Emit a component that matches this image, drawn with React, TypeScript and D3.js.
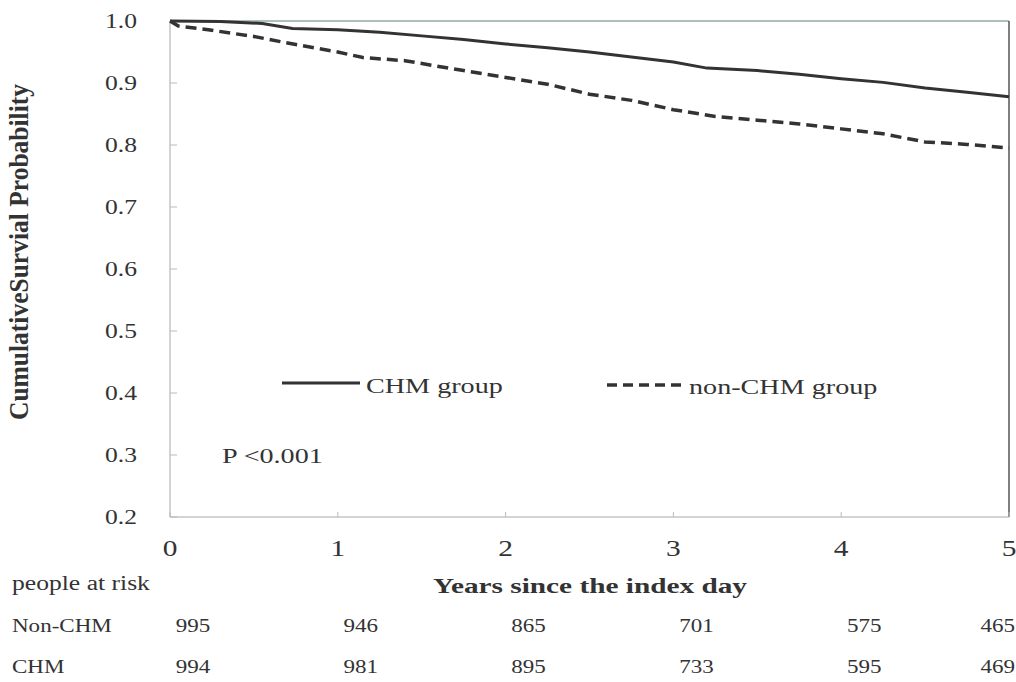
import React from 'react';
import * as d3 from 'd3';

// survival curves
const chmYears = [0, 0.3, 0.55, 0.73, 1.0, 1.25, 1.5, 1.75, 2.0, 2.25, 2.5, 2.75, 3.0, 3.2, 3.5, 3.75, 4.0, 4.25, 4.5, 4.75, 5.0];
const chmSurv = [1.0, 0.999, 0.996, 0.988, 0.986, 0.982, 0.976, 0.97, 0.963, 0.957, 0.95, 0.942, 0.934, 0.924, 0.92, 0.914, 0.907, 0.901, 0.892, 0.885, 0.878];

const nonYears = [0, 0.05, 0.25, 0.5, 0.75, 1.0, 1.15, 1.4, 1.75, 2.0, 2.25, 2.5, 2.75, 3.0, 3.25, 3.5, 3.75, 4.0, 4.25, 4.5, 4.75, 5.0];
const nonSurv = [1.0, 0.992, 0.985, 0.975, 0.962, 0.95, 0.941, 0.936, 0.92, 0.909, 0.898, 0.882, 0.872, 0.857, 0.846, 0.84, 0.834, 0.826, 0.818, 0.805, 0.801, 0.795];

const xTicks = [0, 1, 2, 3, 4, 5];
const yTicks = [0.2, 0.3, 0.4, 0.5, 0.6, 0.7, 0.8, 0.9, 1.0];

const riskGroups = ['Non-CHM', 'CHM'];
const riskNon = [995, 946, 865, 701, 575, 465];
const riskChm = [994, 981, 895, 733, 595, 469];

const W = 1016;
const H = 682;
const SX = 1.28; // the scan is stretched sideways
const FONT = '"Liberation Serif", "Times New Roman", serif';
const INK = '#333';

const T = ({ x, y, size, anchor = 'start', weight = 'normal', children }: any) => (
  <text
    transform={`translate(${x},${y}) scale(${SX},1)`}
    fontFamily={FONT}
    fontSize={size}
    fontWeight={weight}
    textAnchor={anchor}
    fill={INK}
  >
    {children}
  </text>
);

export default function App() {
  const x = d3.scaleLinear().domain([0, 5]).range([170, 1009]);
  const y = d3.scaleLinear().domain([0.2, 1.0]).range([517, 21]);

  const line = d3
    .line<[number, number]>()
    .x(d => x(d[0]))
    .y(d => y(d[1]));

  const chm = chmYears.map((t, i) => [t, chmSurv[i]] as [number, number]);
  const non = nonYears.map((t, i) => [t, nonSurv[i]] as [number, number]);

  const [x0, x1] = x.range();
  const [yb, yt] = y.range();

  return (
    <svg width={W} height={H} style={{ position: 'absolute', left: 0, top: 0, background: '#fff' }}>
      {/* frame */}
      <line x1={x0} x2={x0} y1={yt} y2={yb} stroke="#a8a8a8" strokeWidth={1} />
      <line x1={x0} x2={x1} y1={yb} y2={yb} stroke="#a8a8a8" strokeWidth={1} />
      <line x1={x0} x2={x1} y1={yt} y2={yt} stroke="#5f7f78" strokeWidth={1} />
      <line x1={x1} x2={x1} y1={yt} y2={yb} stroke="#555" strokeWidth={1.5} />

      {/* y ticks */}
      {yTicks.map(v => (
        <g key={v}>
          <line x1={x0} x2={x0 + 7} y1={y(v)} y2={y(v)} stroke="#bbb" />
          <T x={137} y={y(v) + 7} size={20} anchor="end">{v.toFixed(1)}</T>
        </g>
      ))}

      {/* x ticks */}
      {xTicks.map(v => (
        <g key={v}>
          <line x1={x(v)} x2={x(v)} y1={yb} y2={yb - 5} stroke="#bbb" />
          <T x={x(v)} y={556} size={23} anchor="middle">{v}</T>
        </g>
      ))}

      {/* curves */}
      <path d={line(chm) || ''} fill="none" stroke="#333" strokeWidth={3} />
      <path d={line(non) || ''} fill="none" stroke="#333" strokeWidth={3.5} strokeDasharray="11 6" />

      {/* legend */}
      <line x1={282} x2={360} y1={383} y2={383} stroke="#333" strokeWidth={3} />
      <T x={366} y={393} size={22}>CHM group</T>
      <line x1={607} x2={682} y1={385} y2={385} stroke="#333" strokeWidth={3.5} strokeDasharray="10 6" />
      <T x={689} y={394} size={22}>non-CHM group</T>
      <T x={222} y={463} size={22}>P &lt;0.001</T>

      {/* axis titles */}
      <text
        transform={`translate(28,252) scale(${SX},1) rotate(-90)`}
        fontFamily={FONT}
        fontSize={21}
        fontWeight="bold"
        textAnchor="middle"
        fill={INK}
        textLength={336}
        lengthAdjust="spacingAndGlyphs"
      >
        CumulativeSurvial Probability
      </text>
      <text
        x={433}
        y={593}
        fontFamily={FONT}
        fontSize={22}
        fontWeight="bold"
        fill={INK}
        textLength={314}
        lengthAdjust="spacingAndGlyphs"
      >
        Years since the index day
      </text>

      {/* number at risk */}
      <T x={12} y={590} size={20}>people at risk</T>
      {riskGroups.map((g, r) => (
        <g key={g}>
          <T x={12} y={632 + r * 41} size={18}>{g}</T>
          {(r === 0 ? riskNon : riskChm).map((n, i) => (
            <T key={i} x={i === 5 ? W - 1 : x(xTicks[i]) + 23} y={632 + r * 41} size={18} anchor={i === 5 ? 'end' : 'middle'}>
              {n}
            </T>
          ))}
        </g>
      ))}
    </svg>
  );
}
